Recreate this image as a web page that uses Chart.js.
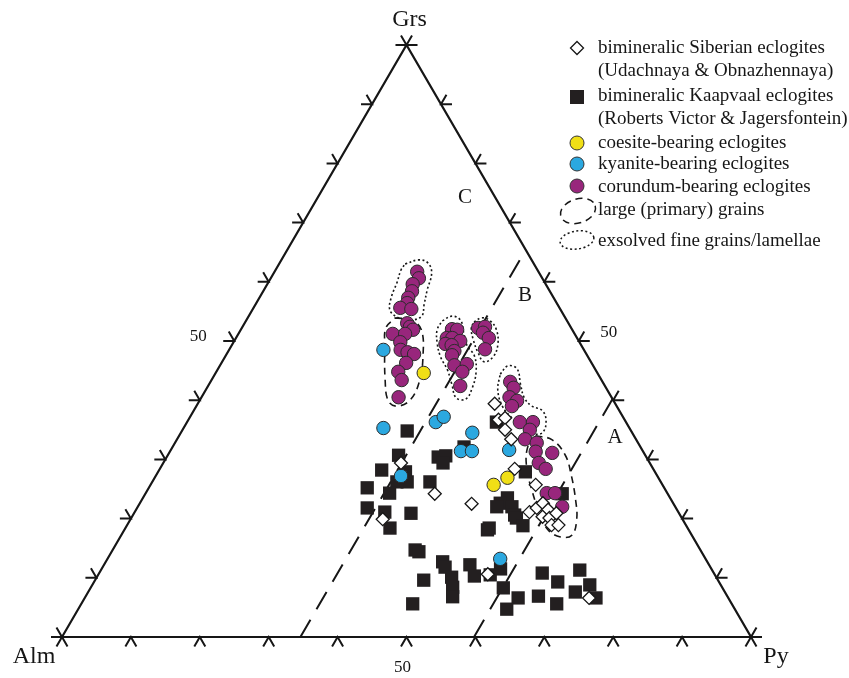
<!DOCTYPE html>
<html>
<head>
<meta charset="utf-8">
<script src="https://cdn.jsdelivr.net/npm/chart.js@4.4.1/dist/chart.umd.min.js"></script>
<style>
  html, body { margin: 0; padding: 0; background: #fff; }
  #wrap { width: 849px; height: 678px; }
</style>
</head>
<body>
<div id="wrap"><canvas id="ternary" width="849" height="678"></canvas></div>
<script>
// ====== DATA : every composition is [Py %, Grs %]  (Alm = 100 - Py - Grs) ======
const siberian = [
  [34.5, 29.4], [42.0, 24.2], [48.2, 22.5], [36.6, 19.9], [43.1, 39.4], [45.0, 36.7],
  [45.8, 37.0], [46.8, 35.0], [48.5, 33.4], [51.5, 28.4], [55.9, 25.7], [57.3, 21.1],
  [58.0, 21.8], [58.5, 22.6], [59.8, 21.5], [59.6, 20.3], [60.7, 20.1], [61.3, 20.9],
  [61.6, 18.9], [62.6, 18.9], [56.5, 10.6], [73.2, 6.6]
];
const kaapvaal = [
  [32.7, 34.8], [33.5, 30.7], [32.3, 28.2], [35.9, 27.9], [37.0, 26.2], [35.5, 26.2],
  [35.4, 24.3], [31.7, 25.2], [33.4, 21.8], [36.3, 21.1], [40.2, 20.9], [38.4, 18.4],
  [40.3, 26.2], [39.4, 30.4], [40.4, 30.6], [40.6, 29.4], [42.3, 32.1], [52.7, 18.1],
  [53.3, 27.9], [52.9, 23.5], [52.3, 22.6], [54.3, 22.0], [52.1, 22.0], [55.4, 20.6],
  [55.9, 20.1], [57.5, 18.8], [52.8, 18.4], [60.5, 24.2], [44.9, 36.3],
  [43.9, 14.7], [44.6, 14.4], [48.9, 12.7], [49.7, 11.8], [53.1, 12.2], [54.7, 10.3],
  [47.7, 9.6], [51.5, 10.1], [52.5, 8.4], [53.3, 6.8], [57.9, 11.5], [56.9, 10.5],
  [59.9, 8.3], [62.9, 6.6], [62.2, 4.7], [48.1, 5.6], [64.3, 10.8], [67.3, 9.3],
  [69.5, 11.3], [72.2, 8.8], [70.7, 7.6], [65.7, 6.9], [69.0, 5.6], [74.2, 6.6]
];
const coesite = [[30.2, 44.6], [49.8, 25.7], [51.2, 26.9]];
const kyanite = [
  [22.4, 48.5], [29.0, 35.3], [36.1, 36.3], [36.8, 37.2], [42.3, 34.5],
  [42.2, 31.4], [43.8, 31.4], [49.1, 31.6], [35.6, 27.2], [57.0, 13.2]
];
const corundum = [
  [20.7, 61.7], [21.5, 60.6], [21.1, 59.6], [21.6, 58.4], [21.6, 57.3], [21.9, 56.4],
  [21.3, 55.6], [23.0, 55.4], [23.6, 53.0], [24.3, 52.4], [25.0, 51.9], [22.4, 51.2],
  [24.2, 51.2], [24.2, 49.8], [24.9, 48.5], [26.1, 48.1], [27.2, 47.8], [26.8, 46.3],
  [26.4, 44.8], [27.6, 43.4], [28.6, 40.5],
  [30.6, 52.0], [31.4, 51.9], [30.6, 50.5], [31.4, 50.5], [32.8, 50.0], [30.9, 49.5],
  [31.9, 49.3], [32.8, 48.3], [32.8, 47.6], [34.0, 45.9], [35.7, 46.1], [35.7, 44.8],
  [36.6, 42.4],
  [34.3, 52.2], [35.2, 52.4], [35.4, 51.4], [36.7, 50.5], [37.1, 48.6],
  [43.5, 43.1], [44.5, 42.1], [44.7, 40.5], [46.1, 39.9], [45.8, 39.0], [48.3, 36.3],
  [50.2, 36.3], [50.4, 35.0], [50.5, 33.4], [52.5, 32.8], [53.1, 31.3], [55.6, 31.1],
  [54.5, 29.4], [56.0, 28.4], [58.2, 24.3], [59.4, 24.3], [61.6, 22.0]
];

// group boundaries (Py = const)
const boundaryA = [[59.8, 0], [59.8, 40.2]];
const boundaryB = [[34.6, 0], [34.6, 65.4]];

// outlines: dashed = large (primary) grains, dotted = exsolved fine grains
const dashedOutlines = [
  [[21.4, 53.9], [24.0, 53.5], [26.2, 51.9], [28.6, 47.6], [30.3, 43.1], [30.5, 40.0],
   [29.1, 39.0], [27.4, 39.9], [25.2, 43.4], [22.2, 49.3], [20.9, 52.2]],
  [[51.7, 34.0], [54.5, 33.3], [57.7, 30.7], [60.2, 27.4], [63.0, 23.1], [64.8, 19.8],
   [65.4, 17.2], [63.9, 16.9], [61.5, 18.1], [59.1, 20.6], [55.8, 24.8], [53.2, 28.5],
   [51.6, 31.9]]
];
const dottedOutlines = [
  [[18.3, 63.0], [19.9, 63.7], [21.5, 63.2], [22.9, 61.5], [23.7, 58.6], [24.5, 56.1],
   [25.1, 54.2], [23.7, 53.5], [21.9, 53.9], [20.0, 55.2], [19.1, 57.4], [18.7, 59.8],
   [18.2, 62.0]],
  [[28.5, 53.4], [29.5, 54.2], [31.1, 53.5], [32.6, 51.4], [34.2, 49.2], [36.1, 47.5],
   [37.7, 44.8], [38.5, 42.1], [38.5, 40.2], [37.0, 40.4], [35.3, 42.6], [33.4, 45.1],
   [31.3, 47.3], [29.6, 49.7], [28.5, 51.9]],
  [[33.2, 53.2], [33.9, 53.9], [35.3, 53.5], [37.1, 51.9], [38.6, 49.3], [38.9, 47.3],
   [38.0, 46.5], [36.4, 48.0], [34.6, 50.2], [33.3, 52.2]],
  [[41.4, 44.4], [41.8, 45.8], [43.4, 45.3], [45.2, 42.7], [46.9, 40.4], [48.7, 39.0],
   [50.5, 38.3], [51.9, 36.7], [52.5, 34.6], [51.3, 34.3], [49.1, 35.3], [46.8, 37.0],
   [44.5, 38.9], [42.4, 41.7]]
];

const tickSteps = [0, 10, 20, 30, 40, 50, 60, 70, 80, 90, 100];
const apexLabels = ['Grs', 'Alm', 'Py'];
const fieldLabels = ['C', 'B', 'A'];
const axisLabel = '50';
const legendLabels = [
  ['bimineralic Siberian eclogites', '(Udachnaya & Obnazhennaya)'],
  ['bimineralic Kaapvaal eclogites', '(Roberts Victor & Jagersfontein)'],
  ['coesite-bearing eclogites'],
  ['kyanite-bearing eclogites'],
  ['corundum-bearing eclogites'],
  ['large (primary) grains'],
  ['exsolved fine grains/lamellae']
];

// ====== HELPERS ======
const SERIF = '"Liberation Serif", "Times New Roman", serif';
const INK = '#161616';
const PURPLE = '#98267c';
const BLUE = '#2ba8e0';
const YELLOW = '#f0df16';
const SQUARE = '#231f20';

// ternary -> plot coords (x runs Alm..Py, y is Grs)
function toXY(p) {
  return { x: p[0] + p[1] / 2, y: p[1] };
}
function closed(list) {
  return list.concat([list[0]]).map(toXY);
}

// outward tick marks along all three edges
function tickPath() {
  const L = 1.6;
  const out = [];
  const gap = { x: 0, y: null };
  tickSteps.forEach(v => {
    out.push(toXY([v, -L]), toXY([v, 0]), toXY([v + L, -L]), gap);                         // Alm-Py
    out.push(toXY([-L, v]), toXY([0, v]), toXY([-L, v + L]), gap);                          // Alm-Grs
    out.push(toXY([100 - v + L, v]), toXY([100 - v, v]), toXY([100 - v, v + L]), gap);      // Py-Grs
  });
  return out;
}

function pointSet(label, list, style, radius, fill, stroke, bw) {
  return {
    label: label,
    data: list.map(toXY),
    showLine: false,
    pointStyle: style,
    pointRadius: radius,
    pointHoverRadius: radius,
    backgroundColor: fill,
    borderColor: stroke,
    borderWidth: bw,
    clip: false
  };
}
function lineSet(data, width, dash, tension) {
  return {
    data: data,
    showLine: true,
    pointRadius: 0,
    pointHoverRadius: 0,
    borderColor: INK,
    borderWidth: width,
    borderDash: dash,
    tension: tension,
    fill: false,
    spanGaps: false,
    clip: false
  };
}

// ====== TEXT + LEGEND ======
const textPlugin = {
  id: 'ternaryText',
  afterDatasetsDraw(chart) {
    const c = chart.ctx;
    const x = chart.scales.x, y = chart.scales.y;
    const px = p => x.getPixelForValue(toXY(p).x);
    const py = p => y.getPixelForValue(toXY(p).y);
    c.save();
    c.fillStyle = INK;
    c.textAlign = 'center';
    c.textBaseline = 'middle';

    // apex labels
    c.font = '24px ' + SERIF;
    c.fillText(apexLabels[0], px([0, 100]) + 3, py([0, 100]) - 25);
    c.fillText(apexLabels[1], px([0, 0]) - 28, py([0, 0]) + 20);
    c.fillText(apexLabels[2], px([100, 0]) + 25, py([100, 0]) + 20);

    // field labels
    c.font = '21px ' + SERIF;
    c.fillText(fieldLabels[0], 465, 197);
    c.fillText(fieldLabels[1], 525, 295);
    c.fillText(fieldLabels[2], 615, 437);

    // 50 % labels
    c.font = '17px ' + SERIF;
    c.fillText(axisLabel, px([0, 50]) - 36, py([0, 50]) - 4);
    c.fillText(axisLabel, px([50, 50]) + 30, py([50, 50]) - 8);
    c.fillText(axisLabel, px([50, 0]) - 4, py([50, 0]) + 31);

    // legend
    const lx = 577, tx = 598;
    const rows = [48, 97, 143, 164, 186];
    c.lineWidth = 1.3;
    // diamond
    c.beginPath();
    c.moveTo(lx, rows[0] - 6.5); c.lineTo(lx + 6.5, rows[0]);
    c.lineTo(lx, rows[0] + 6.5); c.lineTo(lx - 6.5, rows[0]); c.closePath();
    c.fillStyle = '#fff'; c.fill(); c.strokeStyle = INK; c.stroke();
    // square
    c.fillStyle = SQUARE;
    c.fillRect(lx - 7, rows[1] - 7, 14, 14);
    // circles
    [[YELLOW, rows[2]], [BLUE, rows[3]], [PURPLE, rows[4]]].forEach(([col, ry]) => {
      c.beginPath(); c.arc(lx, ry, 7, 0, Math.PI * 2);
      c.fillStyle = col; c.fill(); c.lineWidth = 1; c.strokeStyle = '#333'; c.stroke();
    });
    // outline symbols
    c.strokeStyle = INK;
    c.lineWidth = 1.5;
    c.setLineDash([7, 5]);
    c.beginPath(); c.ellipse(578, 211, 18, 12, -0.3, 0, Math.PI * 2); c.stroke();
    c.setLineDash([2, 2.5]);
    c.beginPath(); c.ellipse(577, 240, 17, 9, -0.15, 0, Math.PI * 2); c.stroke();
    c.setLineDash([]);

    c.fillStyle = INK;
    c.textAlign = 'left';
    c.font = '19px ' + SERIF;
    const textRows = [[48, 71], [96, 119], [143], [164], [187], [210], [241]];
    legendLabels.forEach((lines, i) => {
      lines.forEach((t, j) => c.fillText(t, tx, textRows[i][j]));
    });
    c.restore();
  }
};

// ====== CHART ======
const ctx = document.getElementById('ternary').getContext('2d');
new Chart(ctx, {
  type: 'scatter',
  data: {
    datasets: [
      pointSet('Siberian', siberian, 'rectRot', 6.5, '#ffffff', INK, 1.3),
      pointSet('corundum', corundum, 'circle', 6.7, PURPLE, '#2c2c2c', 1),
      pointSet('kyanite', kyanite, 'circle', 6.7, BLUE, '#2c2c2c', 1),
      pointSet('coesite', coesite, 'circle', 6.7, YELLOW, '#2c2c2c', 1),
      pointSet('Kaapvaal', kaapvaal, 'rect', 9.4, SQUARE, SQUARE, 0),
      ...dashedOutlines.map(o => lineSet(closed(o), 1.6, [7, 5], 0.4)),
      ...dottedOutlines.map(o => lineSet(closed(o), 1.6, [2, 2.5], 0.4)),
      lineSet(boundaryA.map(toXY), 2, [20, 12], 0),
      lineSet(boundaryB.map(toXY), 2, [20, 12], 0),
      lineSet(tickPath(), 2, [], 0),
      lineSet(closed([[0, 0], [100, 0], [0, 100]]), 2.2, [], 0)
    ]
  },
  options: {
    responsive: false,
    animation: false,
    devicePixelRatio: 1,
    layout: { padding: { left: 62, right: 98, top: 45, bottom: 41 } },
    scales: {
      x: { type: 'linear', min: 0, max: 100, display: false },
      y: { type: 'linear', min: 0, max: 100, display: false }
    },
    plugins: {
      legend: { display: false },
      tooltip: { enabled: false }
    },
    events: []
  },
  plugins: [textPlugin]
});
</script>
</body>
</html>
